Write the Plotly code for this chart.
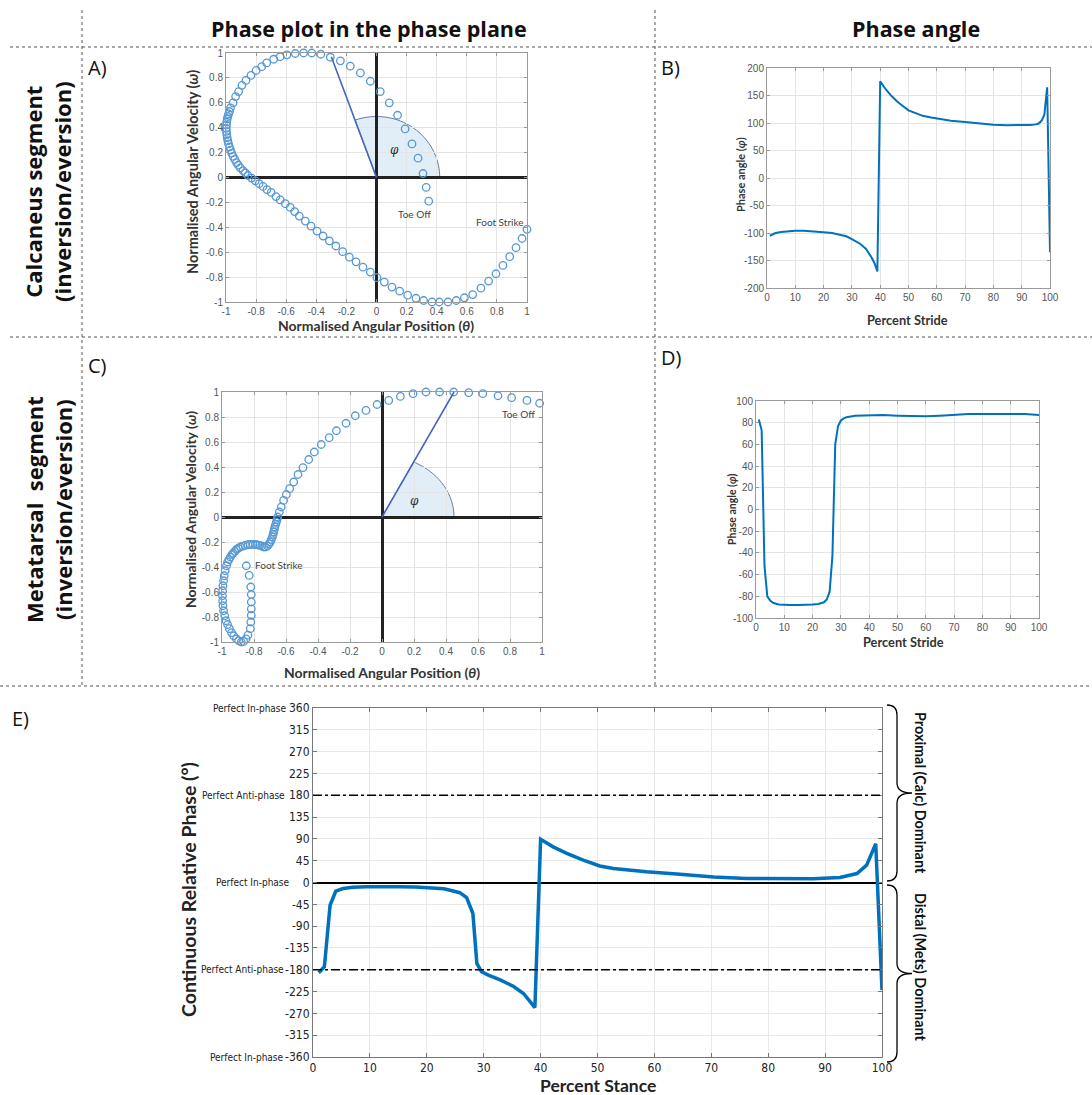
import plotly.graph_objects as go
import numpy as np

W, H = 1092, 1095

# ---------------- DATA ----------------
# Panel A: calcaneus phase portrait (normalised angular position / velocity)
A_theta = [1.0, 0.967, 0.927, 0.885, 0.84, 0.794, 0.745, 0.694, 0.639, 0.584,
           0.530, 0.475, 0.417, 0.369, 0.313, 0.262, 0.207, 0.154, 0.103, 0.052,
           0.003, -0.041, -0.09, -0.136, -0.18, -0.225, -0.27, -0.313, -0.355, -0.395,
           -0.435, -0.473, -0.513, -0.544, -0.573, -0.606, -0.64, -0.668, -0.70, -0.728,
           -0.754, -0.78, -0.805, -0.83, -0.854, -0.872, -0.887, -0.905, -0.918, -0.93,
           -0.942, -0.953, -0.962, -0.97, -0.977, -0.983, -0.988, -0.992, -0.995, -0.997,
           -0.998, -0.997, -0.995, -0.992, -0.988, -0.983, -0.977, -0.97, -0.953, -0.936,
           -0.916, -0.894, -0.867, -0.834, -0.80, -0.763, -0.73, -0.683, -0.64, -0.595,
           -0.54, -0.484, -0.43, -0.37, -0.307, -0.24, -0.174, -0.107, -0.041, 0.025,
           0.085, 0.14, 0.19, 0.236, 0.276, 0.309, 0.33, 0.347]
A_omega = [-0.416, -0.49, -0.564, -0.636, -0.706, -0.773, -0.832, -0.889, -0.94, -0.966,
           -0.988, -1.0, -1.0, -1.0, -0.988, -0.97, -0.945, -0.913, -0.88, -0.84,
           -0.805, -0.76, -0.72, -0.677, -0.64, -0.596, -0.55, -0.51, -0.47, -0.43,
           -0.39, -0.35, -0.31, -0.274, -0.24, -0.21, -0.18, -0.153, -0.12, -0.097,
           -0.072, -0.05, -0.027, -0.005, 0.016, 0.038, 0.056, 0.078, 0.10, 0.12,
           0.145, 0.17, 0.195, 0.22, 0.245, 0.27, 0.295, 0.32, 0.345, 0.37,
           0.395, 0.42, 0.445, 0.47, 0.49, 0.51, 0.53, 0.56, 0.60, 0.65,
           0.69, 0.74, 0.78, 0.82, 0.86, 0.89, 0.92, 0.95, 0.97, 0.985,
           0.996, 1.0, 1.0, 0.99, 0.966, 0.937, 0.894, 0.84, 0.773, 0.69,
           0.60, 0.50, 0.39, 0.27, 0.155, 0.032, -0.08, -0.19]
A_vec = [-0.30, 0.97]          # phase-angle vector end point
A_arc = [0.42, 0.49]           # arc radii (x, y units)

# Panel B: calcaneus phase angle
B_x = [1, 3, 5, 8, 10, 13, 15, 18, 20, 23, 25, 28, 30, 32, 33, 35, 36, 37, 38, 39,
       40, 41, 42, 44, 46, 48, 50, 53, 55, 58, 60, 65, 70, 75, 80, 85, 90, 93, 95, 96,
       97, 98, 99, 100]
B_y = [-105, -100, -98, -96.5, -96, -96, -96.5, -97.5, -98.5, -100, -102, -106, -111, -116, -120, -129, -136, -145, -155, -170,
       176, 168, 161, 149, 139, 131, 123, 117, 113, 110, 108, 104, 102, 99.5, 97, 96, 96, 96.5, 97.5, 99,
       104, 115, 165, -135]

# Panel C: metatarsal phase portrait
C_theta = [-0.848, -0.83, -0.82, -0.817, -0.817, -0.817, -0.817, -0.82, -0.823, -0.838,
           -0.85, -0.865, -0.88, -0.896, -0.91, -0.927, -0.94, -0.954, -0.965, -0.975,
           -0.983, -0.99, -0.994, -0.996, -0.997, -0.996, -0.994, -0.99, -0.986, -0.98,
           -0.972, -0.965, -0.956, -0.948, -0.938, -0.93, -0.92, -0.91, -0.898, -0.885,
           -0.87, -0.854, -0.838, -0.823, -0.806, -0.79, -0.777, -0.765, -0.752, -0.74,
           -0.728, -0.715, -0.706, -0.698, -0.692, -0.685, -0.681, -0.677, -0.673, -0.67,
           -0.665, -0.66, -0.656, -0.652, -0.642, -0.63, -0.615, -0.598, -0.577, -0.552,
           -0.525, -0.494, -0.458, -0.423, -0.38, -0.33, -0.285, -0.225, -0.167, -0.1,
           -0.031, 0.042, 0.115, 0.194, 0.275, 0.36, 0.448, 0.542, 0.63, 0.725,
           0.81, 0.906, 0.985]
C_omega = [-0.39, -0.467, -0.56, -0.62, -0.68, -0.735, -0.787, -0.84, -0.893, -0.945,
           -0.975, -0.995, -1.0, -0.99, -0.975, -0.95, -0.925, -0.893, -0.86, -0.83,
           -0.79, -0.75, -0.71, -0.67, -0.63, -0.59, -0.55, -0.51, -0.47, -0.43,
           -0.39, -0.36, -0.34, -0.32, -0.30, -0.29, -0.275, -0.26, -0.25, -0.24,
           -0.233, -0.227, -0.222, -0.22, -0.22, -0.22, -0.223, -0.227, -0.232, -0.24,
           -0.24, -0.232, -0.215, -0.2, -0.18, -0.16, -0.14, -0.12, -0.10, -0.08,
           -0.06, -0.04, -0.02, 0.0, 0.04, 0.08, 0.133, 0.18, 0.227, 0.28,
           0.34, 0.395, 0.46, 0.52, 0.58, 0.635, 0.69, 0.75, 0.81, 0.853,
           0.9, 0.933, 0.965, 0.987, 1.0, 1.0, 1.0, 0.995, 0.987, 0.97,
           0.955, 0.933, 0.91]
C_vec = [0.45, 1.0]
C_arc = [0.45, 0.49]

# Panel D: metatarsal phase angle
D_x = [1, 2, 3, 4, 5, 6, 8, 10, 12, 15, 18, 20, 22, 24, 25, 26, 27, 28, 29, 30,
       31, 32, 35, 40, 45, 50, 55, 60, 65, 70, 75, 80, 85, 90, 95, 100]
D_y = [83, 73, -52, -80, -84, -86, -87.5, -88, -88, -88, -88, -87.5, -87, -85.5, -83, -76, -43, 60, 77, 82,
       84, 85, 86.5, 87, 87, 86.5, 86, 86, 86.5, 87.5, 88, 88, 88, 88, 88, 87]

# Panel E: continuous relative phase
E_x = [1, 2, 3, 4, 5.3, 7, 9.4, 12, 15.3, 18, 21.1, 23, 24.1, 25.8, 27, 28.1, 28.8, 29.6, 30.8, 32.9,
       35.2, 37, 39, 40, 42.2, 44.6, 47.5, 50.4, 52.8, 58.6, 64.5, 70.4, 76.2, 82, 87.9, 92.6, 95.6, 97.3, 98.9, 100]
E_y = [-186, -174, -47, -18, -12.5, -10, -9, -8.5, -9, -9.5, -11, -13, -16, -21, -31, -64, -167, -184, -191, -201,
       -214, -229, -258, 89, 73.5, 60, 46, 34, 29, 22, 17, 11.6, 8.2, 7.5, 7.5, 10.3, 18.5, 35.7, 80, -222]

E_yticks = [360, 315, 270, 225, 180, 135, 90, 45, 0, -45, -90, -135, -180, -225, -270, -315, -360]
E_ylabels = {360: "Perfect In-phase", 180: "Perfect Anti-phase", 0: "Perfect In-phase",
             -180: "Perfect Anti-phase", -360: "Perfect In-phase"}
E_xticks = [0, 10, 20, 30, 40, 50, 60, 70, 80, 90, 100]

phase_ticks = [-1, -0.8, -0.6, -0.4, -0.2, 0, 0.2, 0.4, 0.6, 0.8, 1]
B_yticks = [-200, -150, -100, -50, 0, 50, 100, 150, 200]
D_yticks = [-100, -80, -60, -40, -20, 0, 20, 40, 60, 80, 100]
stride_ticks = [0, 10, 20, 30, 40, 50, 60, 70, 80, 90, 100]

# ---------------- STYLE ----------------
MARK = "rgb(86,152,212)"
LINE = "rgb(0,114,189)"
HEADFONT = "'Open Sans', Lato, sans-serif"
TITLEFONT = "Lato, 'Open Sans', sans-serif"
TICKFONT = "'Liberation Sans', Arial, sans-serif"
NARROW = "'Liberation Sans Narrow', 'DejaVu Sans Condensed', Arial, sans-serif"


def xp(x):
    return x / W


def yp(y):
    return 1 - y / H


def lab(v):
    return "%g" % v


fig = go.Figure()

fig.add_trace(go.Scatter(x=A_theta, y=A_omega, mode="markers", xaxis="x", yaxis="y",
                         marker=dict(symbol="circle-open", size=7.5, color=MARK, line=dict(width=1.3)),
                         cliponaxis=False, showlegend=False))
fig.add_trace(go.Scatter(x=B_x, y=B_y, mode="lines", xaxis="x2", yaxis="y2",
                         line=dict(color=LINE, width=2), showlegend=False))
fig.add_trace(go.Scatter(x=C_theta, y=C_omega, mode="markers", xaxis="x3", yaxis="y3",
                         marker=dict(symbol="circle-open", size=7.5, color=MARK, line=dict(width=1.3)),
                         cliponaxis=False, showlegend=False))
fig.add_trace(go.Scatter(x=D_x, y=D_y, mode="lines", xaxis="x4", yaxis="y4",
                         line=dict(color=LINE, width=2), showlegend=False))
fig.add_trace(go.Scatter(x=E_x, y=E_y, mode="lines", xaxis="x5", yaxis="y5",
                         line=dict(color=LINE, width=3.5), showlegend=False))

doms = {
    1: ((226, 527), (53, 302)),
    2: ((767, 1050), (68, 288)),
    3: ((222, 542), (392, 642)),
    4: ((756, 1039), (401, 618)),
    5: ((313, 882), (708, 1057)),
}

small_axis = dict(showgrid=True, gridcolor="#e4e4e4", showline=True, linecolor="#9a9a9a",
                  mirror="ticks", ticks="inside", ticklen=3, tickcolor="#9a9a9a", automargin=False,
                  tickfont=dict(family=TICKFONT, size=10, color="#555"), zeroline=False)

layout = dict(template="none", width=W, height=H, margin=dict(l=0, r=0, t=0, b=0, pad=0, autoexpand=False),
              paper_bgcolor="white", plot_bgcolor="white", showlegend=False)

for i, ((x0, x1), (y0, y1)) in doms.items():
    sx = "" if i == 1 else str(i)
    xa = dict(small_axis)
    ya = dict(small_axis)
    xa["domain"] = [xp(x0), xp(x1)]
    ya["domain"] = [yp(y1), yp(y0)]
    xa["anchor"] = "y" + sx
    ya["anchor"] = "x" + sx
    if i in (1, 3):
        xa.update(range=[-1, 1], tickvals=phase_ticks, ticktext=[lab(v) for v in phase_ticks],
                  zeroline=True, zerolinecolor="#222", zerolinewidth=2.5)
        ya.update(range=[-1, 1], tickvals=phase_ticks, ticktext=[lab(v) for v in phase_ticks],
                  zeroline=True, zerolinecolor="#222", zerolinewidth=2.5)
    elif i in (2, 4):
        xa.update(range=[0, 100], tickvals=stride_ticks, ticktext=[lab(v) for v in stride_ticks])
        yt = B_yticks if i == 2 else D_yticks
        ya.update(range=[yt[0], yt[-1]], tickvals=yt, ticktext=[lab(v) for v in yt])
    else:
        xa.update(range=[0, 100], tickvals=E_xticks, ticktext=[lab(v) for v in E_xticks],
                  tickfont=dict(family=NARROW, size=12, color="#222"), linecolor="#777",
                  gridcolor="#e8e8e8", mirror="ticks", ticks="inside", ticklen=4, tickcolor="#777")
        ya.update(range=[-360, 360], tickvals=E_yticks, ticktext=[lab(v) for v in E_yticks],
                  tickfont=dict(family=NARROW, size=12, color="#222"), linecolor="#777",
                  gridcolor="#e8e8e8", mirror="ticks", ticks="inside", ticklen=4, tickcolor="#777",
                  zeroline=True, zerolinecolor="black", zerolinewidth=2)
    layout["xaxis" + sx] = xa
    layout["yaxis" + sx] = ya

fig.update_layout(**layout)

shapes = []
annotations = []


def wedge(vec, arc, xr, yr):
    lx, ly = vec
    rx, ry = arc
    t_end = np.arctan2(ly / ry, lx / rx)
    t = np.linspace(0, t_end, 40)
    ax = rx * np.cos(t)
    ay = ry * np.sin(t)
    path = "M 0,0 " + " ".join("L %.4f,%.4f" % (a, b) for a, b in zip(ax, ay)) + " Z"
    shapes.append(dict(type="path", path=path, xref=xr, yref=yr, layer="below",
                       fillcolor="rgba(189,215,238,0.45)",
                       line=dict(color="rgba(80,100,150,0.85)", width=1)))
    shapes.append(dict(type="line", x0=0, y0=0, x1=lx, y1=ly, xref=xr, yref=yr,
                       line=dict(color="rgb(70,100,190)", width=1.6)))


wedge(A_vec, A_arc, "x", "y")
wedge(C_vec, C_arc, "x3", "y3")

# E reference lines
for v in (180, -180):
    shapes.append(dict(type="line", xref="x5", yref="y5", x0=0, x1=100, y0=v, y1=v,
                       line=dict(color="black", width=1.5, dash="dashdot")))

# table dotted lines
dot = dict(color="#555", width=1, dash="dot")
for (x0, y0, x1, y1) in [(10, 47, 1092, 47), (10, 337, 1092, 337), (0, 686, 1092, 686),
                         (82, 10, 82, 686), (655, 10, 655, 686)]:
    shapes.append(dict(type="line", xref="paper", yref="paper", x0=xp(x0), x1=xp(x1),
                       y0=yp(y0), y1=yp(y1), line=dot))


def brace(x0, ytop, ybot, w=10, tip=25, r=10):
    ym = (ytop + ybot) / 2
    pts = [
        ("M", [(x0, ytop)]),
        ("Q", [(x0 + w, ytop), (x0 + w, ytop + r)]),
        ("L", [(x0 + w, ym - r)]),
        ("Q", [(x0 + w, ym), (x0 + tip, ym)]),
        ("Q", [(x0 + w, ym), (x0 + w, ym + r)]),
        ("L", [(x0 + w, ybot - r)]),
        ("Q", [(x0 + w, ybot), (x0, ybot)]),
    ]
    s = ""
    for cmd, ps in pts:
        s += cmd + " " + " ".join("%.5f,%.5f" % (xp(a), yp(b)) for a, b in ps) + " "
    shapes.append(dict(type="path", path=s, xref="paper", yref="paper",
                       line=dict(color="black", width=1.3)))


brace(887, 705, 881)
brace(887, 885, 1062)

fig.update_layout(shapes=shapes)


def ann(text, x, y, size, bold=False, angle=0, color="#111", family=TITLEFONT, xref="paper", yref="paper",
        xanchor="center", italic=False):
    t = text
    if bold:
        t = "<b>" + t + "</b>"
    if italic:
        t = "<i>" + t + "</i>"
    if xref == "paper":
        x = xp(x)
    if yref == "paper":
        y = yp(y)
    annotations.append(dict(text=t, x=x, y=y, xref=xref, yref=yref, showarrow=False,
                            textangle=angle, font=dict(size=size, color=color, family=family),
                            xanchor=xanchor, yanchor="middle"))


# headers and row labels
ann("Phase plot in the phase plane", 369, 29, 21.5, bold=True, family=HEADFONT)
ann("Phase angle", 916, 29, 21.5, bold=True, family=HEADFONT)
ann("Calcaneus segment<br>(inversion/eversion)", 48, 192, 22, bold=True, angle=-90, family=HEADFONT)
ann("Metatarsal  segment<br>(inversion/eversion)", 48, 510, 22, bold=True, angle=-90, family=HEADFONT)

# panel letters
for t, x, y in [("A)", 86, 67), ("B)", 659, 67), ("C)", 86, 366), ("D)", 659, 357), ("E)", 10, 718)]:
    ann(t, x, y, 20, xanchor="left", family=HEADFONT)

# axis titles
ann("Normalised Angular Position (<i>θ</i>)", 376, 326, 14, bold=True, color="#333")
ann("Normalised Angular Velocity (<i>ω</i>)", 193, 172, 14.5, bold=True, color="#333", angle=-90)
ann("Normalised Angular Position (<i>θ</i>)", 382, 672, 14, bold=True, color="#333")
ann("Normalised Angular Velocity (<i>ω</i>)", 190, 510, 14, bold=True, color="#333", angle=-90)
ann("Phase angle (<i>φ</i>)", 740, 175, 11, bold=True, color="#333", angle=-90)
ann("Percent Stride", 907, 320, 12.8, bold=True, color="#333")
ann("Phase angle (<i>φ</i>)", 732, 509, 10.5, bold=True, color="#333", angle=-90)
ann("Percent Stride", 904, 642, 12.8, bold=True, color="#333")
ann("Continuous Relative Phase (°)", 188, 890, 19.5, bold=True, color="#222", angle=-90)
ann("Percent Stance", 598, 1085, 17.5, bold=True, color="#222")
ann("Proximal (Calc) Dominant", 921, 793, 14.4, bold=True, color="#111", angle=90)
ann("Distal (Mets) Dominant", 921, 967, 14.4, bold=True, color="#111", angle=90)

# E tick-label prefixes
for v, xr in [(360, 289), (180, 287), (0, 291.5), (-180, 286), (-360, 286)]:
    annotations.append(dict(text=E_ylabels[v], x=xp(xr), y=v, xref="paper", yref="y5", showarrow=False,
                            xanchor="right", yanchor="middle",
                            font=dict(size=10, color="#222", family=NARROW)))

# in-plot labels
ann("φ", 0.12, 0.22, 12, italic=True, xref="x", yref="y", family="'DejaVu Serif', serif", color="#333")
ann("Toe Off", 0.25, -0.29, 10, xref="x", yref="y", color="#444")
ann("Foot Strike", 0.82, -0.36, 10, xref="x", yref="y", color="#444")
ann("φ", 0.2, 0.13, 12, italic=True, xref="x3", yref="y3", family="'DejaVu Serif', serif", color="#333")
ann("Toe Off", 0.85, 0.82, 10, xref="x3", yref="y3", color="#444")
ann("Foot Strike", -0.645, -0.38, 10, xref="x3", yref="y3", color="#444")

fig.update_layout(annotations=annotations)

fig.write_html("out.html", config={"displayModeBar": False},
               post_script="document.body.style.margin='0px';document.body.style.overflow='hidden';")
